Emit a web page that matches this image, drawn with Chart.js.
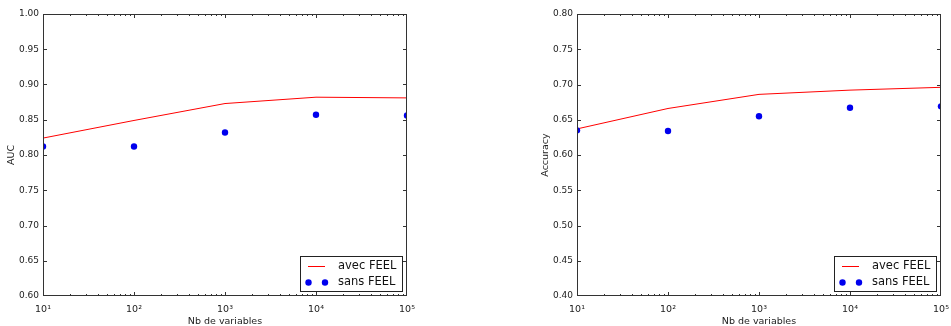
<!DOCTYPE html>
<html>
<head>
<meta charset="utf-8">
<script src="https://cdn.jsdelivr.net/npm/chart.js@4/dist/chart.umd.min.js"></script>
<style>
  html, body { margin: 0; padding: 0; background: #fff; overflow: hidden; }
  #wrap { position: relative; width: 951px; height: 326px; overflow: hidden; background: #fff; }
  canvas { position: absolute; top: 0; }
</style>
</head>
<body>
<div id="wrap">
  <canvas id="c1" width="450" height="326" style="left:0px"></canvas>
  <canvas id="c2" width="450" height="326" style="left:534px"></canvas>
</div>
<script>
// ---- data ----
const nbVariables = [10, 100, 1000, 10000, 100000];
const xTickLabels = ['10\u00B9', '10\u00B2', '10\u00B3', '10\u2074', '10\u2075'];
const seriesNames = ['avec FEEL', 'sans FEEL'];

const aucAvecFeel = [0.824, 0.849, 0.873, 0.882, 0.881];
const aucSansFeel = [0.812, 0.812, 0.832, 0.857, 0.856];

const accAvecFeel = [0.637, 0.666, 0.686, 0.692, 0.696];
const accSansFeel = [0.635, 0.634, 0.655, 0.667, 0.669];

const aucRange = [0.60, 1.00];
const accRange = [0.40, 0.80];
const yStep = 0.05;

const FONT = 'DejaVu Sans';
const FRAME = '#333';

const framePlugin = {
  id: 'frameTicks',
  afterDatasetsDraw(chart) {
    const ctx = chart.ctx;
    const { left, right, top, bottom } = chart.chartArea;
    const xs = chart.scales.x, ys = chart.scales.y;
    ctx.save();
    ctx.strokeStyle = FRAME;
    ctx.lineWidth = 1;
    ctx.beginPath();
    // y ticks (inward, both sides)
    ys.ticks.forEach(t => {
      const py = Math.round(ys.getPixelForValue(t.value)) + 0.5;
      if (py < top + 1.5 || py > bottom - 1.5) return;
      ctx.moveTo(left, py); ctx.lineTo(left + 4, py);
      ctx.moveTo(right, py); ctx.lineTo(right - 4, py);
    });
    // x major + minor ticks (inward, top and bottom)
    const lo = Math.log10(xs.min), hi = Math.log10(xs.max);
    for (let k = Math.floor(lo); k <= Math.ceil(hi); k++) {
      for (let m = 1; m <= 9; m++) {
        const v = m * Math.pow(10, k);
        if (v < xs.min - 1e-9 || v > xs.max + 1e-9) continue;
        const px = Math.round(xs.getPixelForValue(v)) + 0.5;
        if (px < left + 1.5 || px > right - 1.5) continue;
        const len = (m === 1) ? 4 : 2;
        ctx.moveTo(px, bottom); ctx.lineTo(px, bottom - len);
        ctx.moveTo(px, top); ctx.lineTo(px, top + len);
      }
    }
    ctx.stroke();
    // frame
    ctx.strokeRect(Math.round(left) + 0.5, Math.round(top) + 0.5,
                   Math.round(right - left) - 1, Math.round(bottom - top) - 1);
    ctx.restore();
  }
};

const legendPlugin = {
  id: 'boxLegend',
  afterDraw(chart) {
    const ctx = chart.ctx;
    const { right, bottom } = chart.chartArea;
    const w = 102, h = 35;
    const bx = Math.round(right - 5 - w), by = Math.round(bottom - 5 - h);
    ctx.save();
    ctx.fillStyle = '#fff';
    ctx.fillRect(bx, by, w, h);
    ctx.strokeStyle = '#222';
    ctx.lineWidth = 1;
    ctx.strokeRect(bx + 0.5, by + 0.5, w, h);
    const ds = chart.data.datasets;
    const r1 = by + 10.5, r2 = by + 26.5;
    // line sample
    ctx.strokeStyle = ds[0].borderColor;
    ctx.lineWidth = ds[0].borderWidth;
    ctx.beginPath();
    ctx.moveTo(bx + 8, r1); ctx.lineTo(bx + 25, r1);
    ctx.stroke();
    // marker samples
    ctx.fillStyle = ds[1].pointBackgroundColor;
    [bx + 8.5, bx + 25].forEach(cx => {
      ctx.beginPath(); ctx.arc(cx, r2, 3.2, 0, Math.PI * 2); ctx.fill();
    });
    ctx.fillStyle = '#111';
    ctx.font = '11.5px "' + FONT + '"';
    ctx.textBaseline = 'middle';
    ctx.textAlign = 'left';
    ctx.fillText(ds[0].label, bx + 38, r1);
    ctx.fillText(ds[1].label, bx + 38, r2);
    ctx.restore();
  }
};

function makeChart(id, yTitle, avec, sans, range, padRight) {
  const toPts = arr => nbVariables.map((x, i) => ({ x: x, y: arr[i] }));
  return new Chart(document.getElementById(id), {
    type: 'scatter',
    data: {
      datasets: [
        {
          label: seriesNames[0], data: toPts(avec), showLine: true,
          borderColor: '#ff0000', backgroundColor: '#ff0000', borderWidth: 1,
          pointRadius: 0, clip: 0, order: 1
        },
        {
          label: seriesNames[1], data: toPts(sans), showLine: false,
          pointBackgroundColor: '#0000ee', pointBorderColor: '#0000ee',
          pointRadius: 3.2, pointBorderWidth: 0, clip: 0, order: 0
        }
      ]
    },
    options: {
      responsive: false,
      animation: false,
      devicePixelRatio: 1,
      layout: { padding: { top: 14, right: padRight, bottom: 0, left: 0 } },
      plugins: { legend: { display: false }, tooltip: { enabled: false } },
      scales: {
        x: {
          type: 'logarithmic',
          min: nbVariables[0], max: nbVariables[nbVariables.length - 1],
          grid: { display: false, drawTicks: false },
          border: { display: false },
          afterBuildTicks: s => { s.ticks = nbVariables.map(v => ({ value: v })); },
          afterFit: s => { s.height = 30; },
          ticks: {
            autoSkip: false, maxRotation: 0, padding: 8, color: '#222',
            font: { family: FONT, size: 9.5 },
            callback: (v) => { const i = nbVariables.indexOf(v); return i >= 0 ? xTickLabels[i] : ''; }
          },
          title: {
            display: true, text: 'Nb de variables', color: '#222',
            font: { family: FONT, size: 9.5, lineHeight: 1 }, padding: { top: 0, bottom: 0 }
          }
        },
        y: {
          min: range[0], max: range[1],
          grid: { display: false, drawTicks: false },
          border: { display: false },
          afterFit: s => { s.width = 43; },
          ticks: {
            stepSize: yStep, padding: 4, color: '#222',
            font: { family: FONT, size: 9 },
            callback: v => Number(v).toFixed(2)
          },
          title: {
            display: true, text: yTitle, color: '#222',
            font: { family: FONT, size: 9.5, lineHeight: 1 }, padding: { top: 7, bottom: 0 }
          }
        }
      }
    },
    plugins: [framePlugin, legendPlugin]
  });
}

makeChart('c1', 'AUC', aucAvecFeel, aucSansFeel, aucRange, 43);
makeChart('c2', 'Accuracy', accAvecFeel, accSansFeel, accRange, 43);
</script>
</body>
</html>
